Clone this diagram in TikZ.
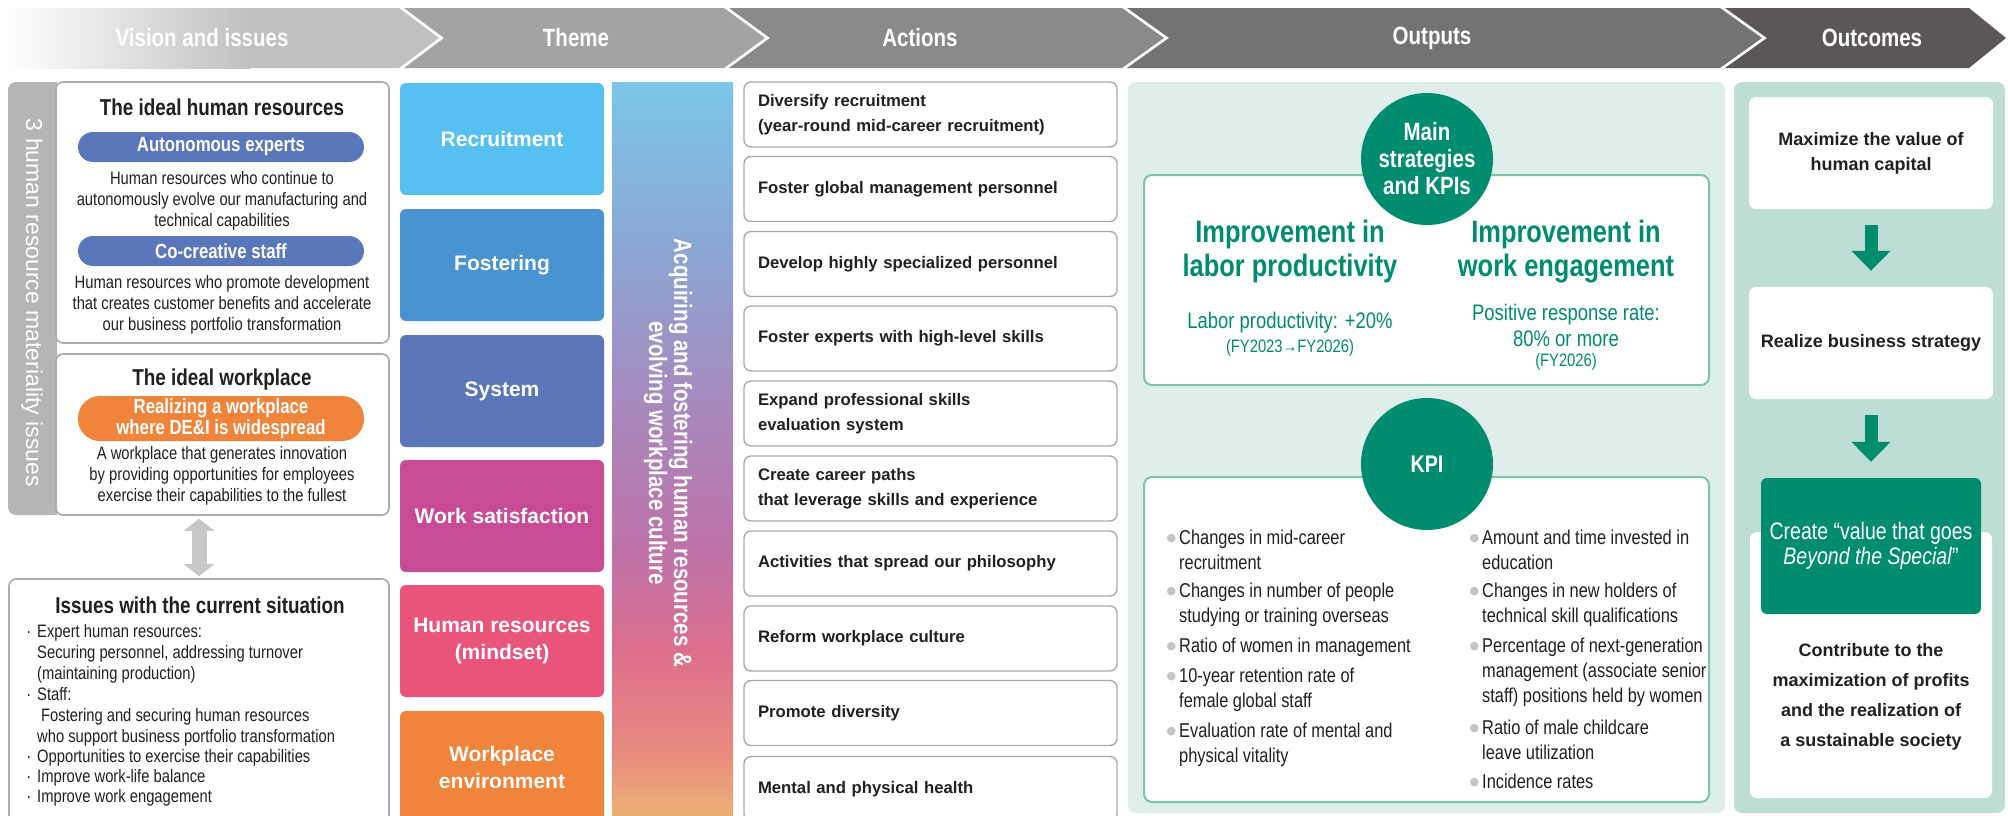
\documentclass[tikz,border=0pt]{standalone}
\usepackage{fontspec}
\setmainfont{Liberation Sans}
\newfontfamily\condfont[FakeStretch=0.82]{Liberation Sans}
\newfontfamily\symfont{DejaVu Sans}
\usepackage{tikz}
\usetikzlibrary{positioning,arrows.meta,calc}

\definecolor{hdrvision}{HTML}{BFC0C2}
\definecolor{hdrtheme}{HTML}{A3A3A3}
\definecolor{hdractions}{HTML}{8A8A8A}
\definecolor{hdroutputs}{HTML}{737373}
\definecolor{hdroutcomes}{HTML}{5A5756}
\definecolor{bandgray}{HTML}{B5B5B6}
\definecolor{boxgray}{HTML}{ABABAB}
\definecolor{inkdark}{HTML}{231F20}
\definecolor{pillblue}{HTML}{5B77BC}
\definecolor{pillorange}{HTML}{F0843A}
\definecolor{threcruit}{HTML}{56C1F0}
\definecolor{thfoster}{HTML}{4893D0}
\definecolor{thsystem}{HTML}{5B76B9}
\definecolor{thsatisf}{HTML}{C84B95}
\definecolor{thhuman}{HTML}{E9557A}
\definecolor{thenv}{HTML}{F0843A}
\definecolor{outbg}{HTML}{E0EEEB}
\definecolor{outline}{HTML}{7CC4AC}
\definecolor{kgreen}{HTML}{008C6E}
\definecolor{outcbg}{HTML}{BEDDD4}
\definecolor{arrowgray}{HTML}{C8C8C8}
\definecolor{bulgray}{HTML}{C4C4C4}
\definecolor{bandorange}{HTML}{EDAF76}
\definecolor{bandsalmon}{HTML}{E88A80}
\definecolor{bandpink}{HTML}{DC6F8E}
\definecolor{bandmagenta}{HTML}{BE72A8}
\definecolor{bandpurple}{HTML}{A68ABE}
\definecolor{bandlav}{HTML}{8BA6D2}
\definecolor{bandblue}{HTML}{7BC6E9}

\pgfdeclareverticalshading{cultureband}{100bp}{color(0bp)=(bandorange); color(25bp)=(bandorange);
 color(29.4bp)=(bandsalmon); color(36.3bp)=(bandpink); color(43.1bp)=(bandmagenta);
 color(53.3bp)=(bandpurple); color(63.5bp)=(bandlav); color(75bp)=(bandblue); color(100bp)=(bandblue)}

\newcommand{\fsz}[2]{\fontsize{#1}{#2}\selectfont}
\newcommand{\kbul}{\llap{\textcolor{bulgray}{\symfont\fsz{11}{11}\raisebox{3pt}{●}}\hspace{3pt}}}
\newcommand{\ibul}{\llap{·\hspace{6pt}}}

\begin{document}
\begin{tikzpicture}[x=1pt,y=-1pt,
 hdrtext/.style={font=\condfont\bfseries\fsz{25}{28},text=white},
 panelbox/.style={draw=boxgray,line width=1.6pt,fill=white,rounded corners=7pt,inner sep=0pt},
 pill/.style={rounded corners=15pt,minimum width=286pt,minimum height=30pt,inner sep=0pt,text=white,align=center,font=\condfont\bfseries\fsz{20.5}{21}},
 ptitle/.style={font=\condfont\bfseries\fsz{23}{26},text=inkdark},
 pbody/.style={font=\condfont\fsz{18}{21},text=inkdark,align=center},
 issueitem/.style={anchor=west,align=left,inner sep=0pt,font=\condfont\fsz{18}{20.7},text=inkdark},
 themebox/.style={rounded corners=6pt,minimum width=204pt,minimum height=112pt,inner sep=0pt,text=white,align=center,font=\bfseries\fsz{21}{27}},
 actbox/.style={draw=boxgray,line width=1.4pt,fill=white,rounded corners=7pt,minimum height=65pt,text width=345pt,inner xsep=14pt,inner ysep=0pt,align=left,font=\bfseries\fsz{16.7}{25},text=inkdark},
 outbox/.style={draw=outline,line width=2pt,fill=white,rounded corners=8pt,inner sep=0pt},
 kcircle/.style={circle,fill=kgreen,minimum size=132pt,inner sep=0pt,text=white,align=center,font=\condfont\bfseries\fsz{25}{27}},
 bigteal/.style={align=center,text=kgreen,font=\condfont\bfseries\fsz{31}{34}},
 tealtext/.style={align=center,text=kgreen,font=\condfont\fsz{22.5}{26}},
 tealsmall/.style={align=center,text=kgreen,font=\condfont\fsz{18}{20}},
 kpiitem/.style={anchor=west,align=left,inner sep=0pt,font=\condfont\fsz{20}{25},text=inkdark},
 whitebox/.style={fill=white,rounded corners=7pt,minimum width=244pt,minimum height=112pt,inner sep=0pt,align=center,text=inkdark,font=\bfseries\fsz{18}{25}},
 greenbox/.style={fill=kgreen,rounded corners=6pt,minimum width=220pt,minimum height=136pt,inner sep=0pt,align=center,text=white,font=\condfont\fsz{23.8}{25}},
 outctext/.style={align=center,text=inkdark,font=\bfseries\fsz{18}{30}},
 downarrow/.style={draw=kgreen,line width=13pt,-{Triangle[length=20pt,width=38pt]},shorten <=16pt,shorten >=16pt},
 twoway/.style={draw=arrowgray,line width=15pt,{Triangle[length=12pt,width=30pt]}-{Triangle[length=12pt,width=30pt]},shorten <=3pt,shorten >=2pt}]

\useasboundingbox (0,0) rectangle (2008,815);
\clip (0,0) rectangle (2008,815);
\fill[white] (0,0) rectangle (2008,815);

% Header chevrons
\fill[hdrvision] (8,8) -- (399,8) -- (439,38) -- (399,68) -- (8,68) -- cycle;
\shade[left color=white,right color=hdrvision] (8,8) rectangle (250,68);
\fill[hdrtheme] (404,8) -- (724,8) -- (765,38) -- (724,68) -- (404,68) -- (444,38) -- cycle;
\fill[hdractions] (729,8) -- (1122,8) -- (1164,38) -- (1122,68) -- (729,68) -- (770,38) -- cycle;
\fill[hdroutputs] (1127,8) -- (1720,8) -- (1762,38) -- (1720,68) -- (1127,68) -- (1169,38) -- cycle;
\fill[hdroutcomes] (1725,8) -- (1969,8) -- (2006,38) -- (1969,68) -- (1725,68) -- (1767,38) -- cycle;
\node[hdrtext] (hvision) at (202,38) {Vision and issues};
\node[hdrtext] (htheme) at (576,38) {Theme};
\node[hdrtext] (hactions) at (920,38) {Actions};
\node[hdrtext] (houtputs) at (1432,38) {Outputs};
\node[hdrtext] (houtcomes) at (1872,38) {Outcomes};

% Vision and issues: materiality panel
\fill[bandgray,rounded corners=8pt] (8,82) rectangle (57,515);
\fill[bandgray] (40,82) rectangle (57,515);
\node[panelbox,minimum width=333pt,minimum height=261pt] (idealhr) at (222.5,212.5) {};
\node[panelbox,minimum width=333pt,minimum height=161pt] (idealwp) at (222.5,434.5) {};
\node[rotate=-90,text=white,font=\fsz{23}{26}] (matlabel) at (32,303) {3 human resource materiality issues};
\node[ptitle] (hrtitle) at (222,107) {The ideal human resources};
\node[pill,fill=pillblue] (autoexp) at (221,147) {Autonomous experts};
\node[pbody] (autotext) at (222,201) {Human resources who continue to\\autonomously evolve our manufacturing and\\technical capabilities};
\node[pill,fill=pillblue] (cocreate) at (221,251) {Co-creative staff};
\node[pbody] (cotext) at (222,305) {Human resources who promote development\\that creates customer benefits and accelerate\\our business portfolio transformation};
\node[ptitle] (wptitle) at (222,380) {The ideal workplace};
\node[pill,fill=pillorange,minimum height=45pt,rounded corners=22pt] (dei) at (221,418.5) {Realizing a workplace\\where DE\&I is widespread};
\node[pbody] (wptext) at (222,476) {A workplace that generates innovation\\by providing opportunities for employees\\exercise their capabilities to the fullest};

% Current issues
\node[panelbox,minimum width=380pt,minimum height=251pt] (issues) at (199,704.5) {};
\draw[twoway] (issues.north |- idealwp.south) -- (issues.north);
\node[ptitle] (isstitle) at (200,605) {Issues with the current situation};
\node[issueitem] (iss1) at (37,654) {\ibul Expert human resources:\\Securing personnel, addressing turnover\\(maintaining production)};
\node[issueitem] (iss2) at (37,717) {\ibul Staff:\\\hspace*{4pt}Fostering and securing human resources\\who support business portfolio transformation};
\node[issueitem] (iss3) at (37,758) {\ibul Opportunities to exercise their capabilities};
\node[issueitem] (iss4) at (37,778) {\ibul Improve work-life balance};
\node[issueitem] (iss5) at (37,798) {\ibul Improve work engagement};

% Theme boxes
\node[themebox,fill=threcruit] (recruit) at (502,139) {Recruitment};
\node[themebox,fill=thfoster] (foster) at (502,265) {Fostering};
\node[themebox,fill=thsystem] (system) at (502,391) {System};
\node[themebox,fill=thsatisf] (satisf) at (502,516) {Work satisfaction};
\node[themebox,fill=thhuman] (hrmind) at (502,641) {Human resources\\(mindset)};
\node[themebox,fill=thenv] (wpenv) at (502,767) {Workplace\\environment};

% Gradient band
\fill[shading=cultureband] (612,82) rectangle (733,815);
\node[rotate=-90,align=center,text=white,font=\condfont\bfseries\fsz{25}{25}] (culture) at (668,453)
 {Acquiring and fostering human resources \&\\evolving workplace culture};

% Actions
\node[actbox] (diversify) at (930.5,114.5) {Diversify recruitment\\(year-round mid-career recruitment)};
\node[actbox] (globalmgmt) at (930.5,189) {Foster global management personnel};
\node[actbox] (specialist) at (930.5,264) {Develop highly specialized personnel};
\node[actbox] (experts) at (930.5,338.5) {Foster experts with high-level skills};
\node[actbox] (evalsys) at (930.5,413.5) {Expand professional skills\\evaluation system};
\node[actbox] (career) at (930.5,488.5) {Create career paths\\that leverage skills and experience};
\node[actbox] (philosophy) at (930.5,563.5) {Activities that spread our philosophy};
\node[actbox] (reform) at (930.5,638.5) {Reform workplace culture};
\node[actbox] (diversity) at (930.5,713) {Promote diversity};
\node[actbox] (health) at (930.5,789) {Mental and physical health};

% Outputs
\fill[outbg,rounded corners=8pt] (1128,82) rectangle (1725,813);
\node[outbox,minimum width=565pt,minimum height=210pt] (strat) at (1426.5,280) {};
\node[outbox,minimum width=565pt,minimum height=325pt] (kpibox) at (1426.5,639.5) {};
\node[kcircle] (stratcirc) at (1427,159) {Main\\strategies\\and KPIs};
\node[kcircle,font=\condfont\bfseries\fsz{24}{27}] (kpicirc) at (1427,464) {KPI};
\node[bigteal] (laborhd) at (1290,251.5) {Improvement in\\labor productivity};
\node[bigteal] (engagehd) at (1566,251.5) {Improvement in\\work engagement};
\node[tealtext] (labortxt) at (1290,323) {Labor productivity: +20\%};
\node[tealsmall] (laborfy) at (1290,348) {(FY2023→FY2026)};
\node[tealtext] (engagetxt) at (1566,325) {Positive response rate:\\80\% or more};
\node[tealsmall] (engagefy) at (1566,362) {(FY2026)};

% KPI lists
\node[kpiitem] (kpimid) at (1179,549.5) {\kbul Changes in mid-career\\recruitment};
\node[kpiitem] (kpiabroad) at (1179,604.5) {\kbul Changes in number of people\\studying or training overseas};
\node[kpiitem] (kpiwomen) at (1179,647) {\kbul Ratio of women in management};
\node[kpiitem] (kpiretain) at (1179,689.5) {\kbul 10-year retention rate of\\female global staff};
\node[kpiitem] (kpivital) at (1179,744.5) {\kbul Evaluation rate of mental and\\physical vitality};
\node[kpiitem] (kpiedu) at (1482,549.5) {\kbul Amount and time invested in\\education};
\node[kpiitem] (kpiqual) at (1482,604.5) {\kbul Changes in new holders of\\technical skill qualifications};
\node[kpiitem] (kpinextgen) at (1482,672) {\kbul Percentage of next-generation\\management (associate senior\\staff) positions held by women};
\node[kpiitem] (kpichild) at (1482,739.5) {\kbul Ratio of male childcare\\leave utilization};
\node[kpiitem] (kpiincid) at (1482,781) {\kbul Incidence rates};

% Outcomes
\fill[outcbg,rounded corners=8pt] (1734,82) rectangle (2005,813);
\node[whitebox] (maxvalue) at (1871,153) {Maximize the value of\\human capital};
\node[whitebox] (realize) at (1871,343) {Realize business strategy};
\node[whitebox,minimum width=242pt,minimum height=266pt] (contribbox) at (1871,665) {};
\node[greenbox] (create) at (1871,546) {Create “value that goes\\\textit{Beyond the Special}”};
\node[outctext] (contrib) at (1871,697) {Contribute to the\\maximization of profits\\and the realization of\\a sustainable society};
\draw[downarrow] (maxvalue) -- (realize);
\draw[downarrow] (realize) -- (create);
\end{tikzpicture}
\end{document}
